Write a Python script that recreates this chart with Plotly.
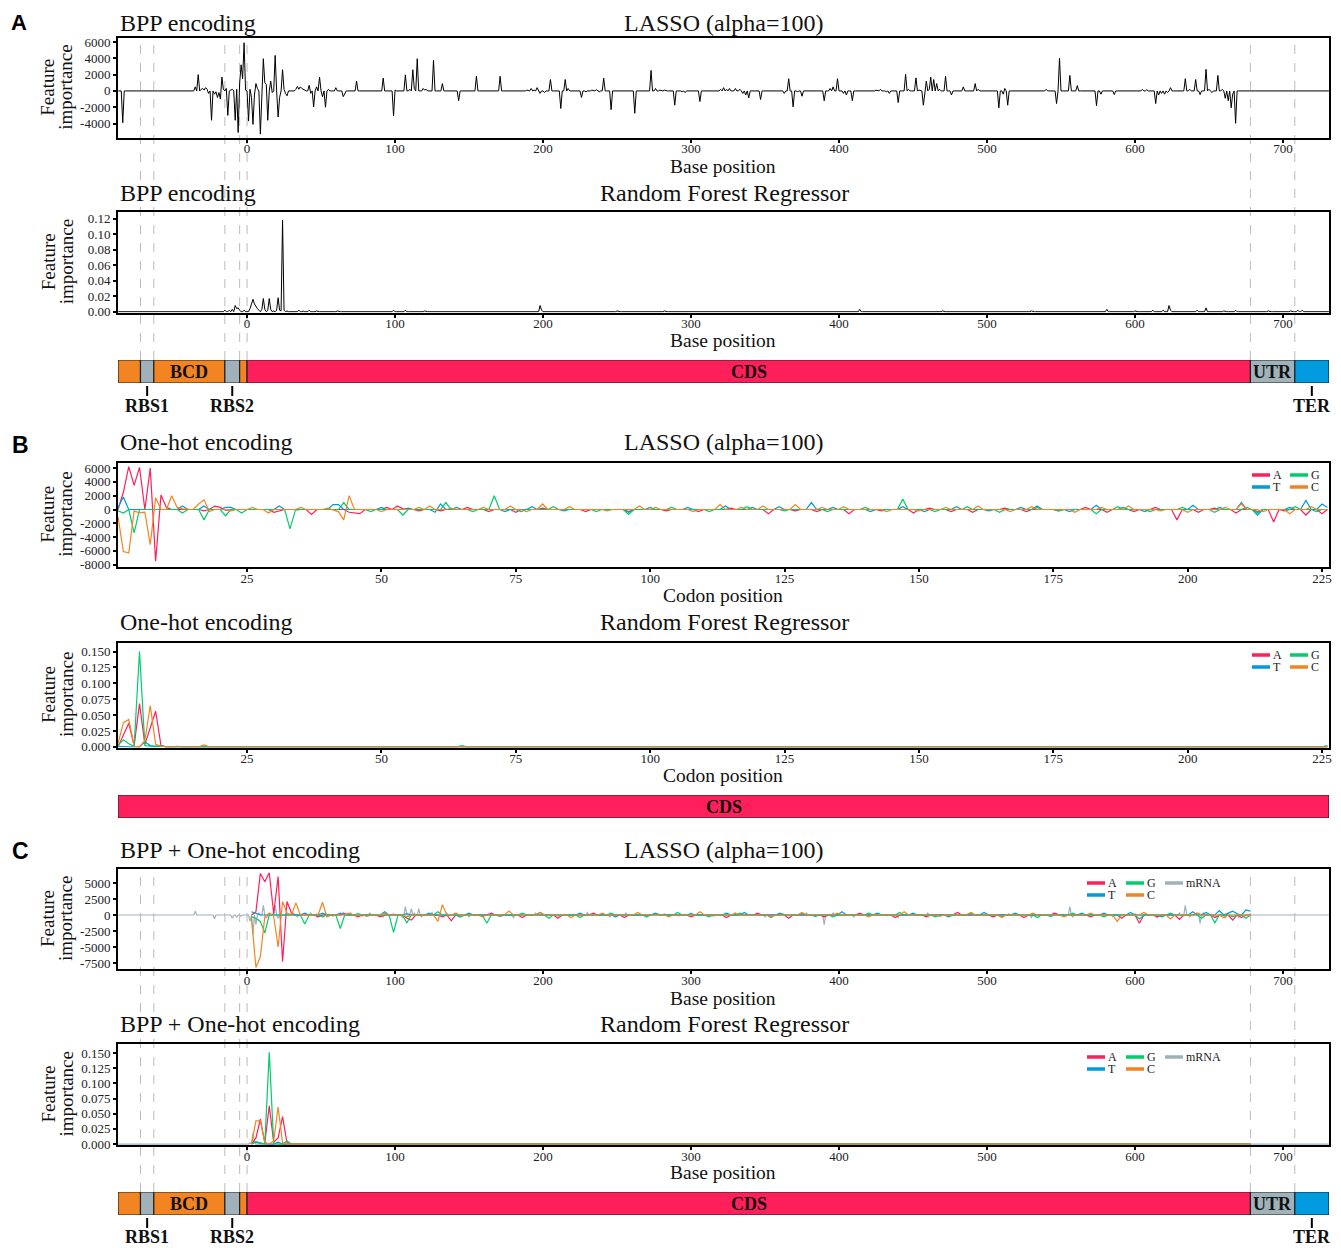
import plotly.graph_objects as go

PAGE_W, PAGE_H = 1341, 1248
OX, OY = 8, 8
W, H = PAGE_W - OX, PAGE_H - OY
SERIF = "Liberation Serif"
SANS = "Liberation Sans"

COL_A = "#FF1F5B"
COL_T = "#009ADE"
COL_G = "#00CD6C"
COL_C = "#F28522"
COL_M = "#A0B1BA"

# ---------------- data ----------------
base_positions = list(range(-87, 732))
codon_positions = list(range(1, 227))

# A: LASSO, BPP encoding (base position -> importance)
lasso_bpp_pos = [-84, -35, -33, -31, -30, -29, -28, -27, -26, -24, -22, -21, -20, -19, -18,
                 -17, -16, -14, -13, -11, -10, -8, -7, -6, -5, -4, -3, -2, -1,
                 1, 2, 3, 4, 5, 6, 7, 9, 11, 12, 13, 14, 16, 17, 19, 21, 22, 24, 25, 26, 27,
                 33, 34, 35, 36, 37, 38, 42, 43, 45, 47, 49, 51, 53, 55, 60, 65, 66, 74, 80,
                 92, 99, 100, 107, 110, 112, 113, 115, 119, 120, 121, 126, 132, 143, 155, 171,
                 189, 192, 194, 196, 198, 201, 205, 212, 215, 217, 226, 229, 233, 236, 238, 241,
                 246, 262, 273, 276, 279, 282, 289, 294, 296, 306,
                 320, 322, 324, 326, 330, 333, 335, 337, 339, 347, 363, 366, 369, 372, 375, 390,
                 394, 396, 399, 403, 405, 409, 425, 428, 432, 434, 440, 445, 447, 452, 454, 457,
                 459, 461, 462, 464, 466, 468, 472, 476, 484, 492, 494,
                 508, 511, 512, 514, 540, 547, 549, 556, 561, 574, 577, 586, 600, 605, 608, 614,
                 616, 618, 620, 622, 624, 634, 637, 641, 644, 648, 650, 652, 656, 659, 661, 663,
                 665, 666, 668]
lasso_bpp_val = [-3900, 500, 2000, 200, 300, 100, 400, 200, -300, -3600, -400, -100, -800, -200, -1000,
                 1700, 200, 300, -3000, 100, 200, -3600, 200, -5100, 1000, 3200, 1500, 5900, 100,
                 -3700, 200, -800, -4100, -500, 900, 300, -5300, 3950, 1000, 800, -3600, 1200, -200, 4350, -3200, -800, 2600, 200, -300, -600,
                 200, 550, 200, 500, 300, 200, 700, -300, -1950, 500, 1700, -700, -2000, 200, 400, -700, -300, 1200, 50,
                 1570, -3050, 100, 1970, 200, 2600, 300, 3950, 300, 100, 200, 3750, 900, -1200, 1800, 1800,
                 100, 300, 100, 400, -300, -200, 1400, -2150, 1400, 300, -800, -100, 100, 150, -100, 1570,
                 -2300, -2740, 2520, 300, 100, 100, -1750, -100, -200, -1300,
                 200, 400, 200, 300, 300, 200, -300, -500, -850, -1050, -300, 1500, -1950, -100, -650, -1200,
                 300, 500, 1500, -300, -500, -1200, 100, 200, -100, -300, -1430, 2030, 200, 1600, 100, -1750,
                 1200, 200, 1700, 1400, 900, 200, 1800, -500, 500, 900, 200,
                 -2070, -400, 300, -1750, 200, -1550, 4000, 1900, 650, -1800, -400, -450, 50, 200, 150, -1550,
                 -500, -300, -400, -200, 400, 1500, 200, 1400, -450, 2650, 200, -200, 1900, 200, -900, -1200,
                 -2070, -400, -3970]

# A: Random forest, BPP encoding
rf_bpp_pos = [-80, -70, -55, -45, -35, -28, -22, -18, -15, -12, -10, -8, -7, -6, -5, -2,
              2, 3, 4, 5, 6, 7, 8, 10, 11, 12, 14, 15, 16, 18, 20, 21, 22, 23, 24, 25, 27,
              30, 35, 38, 42, 47, 52, 61, 66, 80, 90, 99, 107, 112, 120, 130, 140, 150, 165,
              180, 198, 199, 210, 225, 240, 250, 265, 282, 300, 320, 340, 360, 380, 395, 414,
              430, 450, 470, 490, 510, 530, 545, 560, 570, 581, 590, 600, 612, 619, 623, 624,
              630, 642, 648, 655, 660, 668, 675, 690, 695, 705, 710, 713, 720, 728]
rf_bpp_val = [0.0008, 0.0008, 0.0008, 0.0008, 0.0008, 0.0008, 0.0008, 0.0008, 0.002, 0.002, 0.003, 0.008, 0.004, 0.005, 0.002, 0.002,
              0.004, 0.012, 0.016, 0.010, 0.006, 0.004, 0.002, 0.003, 0.017, 0.003, 0.002, 0.017, 0.003, 0.001, 0.002, 0.018, 0.002, 0.001, 0.118, 0.002, 0.001,
              0.0008, 0.002, 0.0008, 0.002, 0.001, 0.0008, 0.001, 0.0008, 0.0008, 0.0008, 0.002, 0.002, 0.0008, 0.001, 0.0008, 0.0008, 0.0008, 0.0008,
              0.0008, 0.008, 0.002, 0.0008, 0.0008, 0.0008, 0.001, 0.0008, 0.001, 0.0008, 0.0008, 0.0008, 0.0008, 0.0008, 0.0008, 0.003,
              0.0008, 0.0008, 0.001, 0.0008, 0.0008, 0.001, 0.0008, 0.0008, 0.0008, 0.003, 0.0008, 0.001, 0.002, 0.002, 0.008, 0.002,
              0.0008, 0.002, 0.005, 0.0008, 0.001, 0.002, 0.0008, 0.001, 0.0008, 0.001, 0.002, 0.002, 0.0008, 0.0008]

# B: LASSO, one-hot encoding (codon -> importance)
lasso_oh_A = {2: 2500, 3: 6200, 4: 3500, 5: 6100, 7: 6000, 8: -7500, 9: 2100, 10: 300, 17: -200, 19: 500,
              20: 300, 21: -100, 30: -400, 31: -200, 37: -700, 44: -400, 45: -500, 46: -600, 51: 300, 53: 500,
              54: 100, 57: -200, 61: -200, 66: 300, 70: -300, 75: -400, 80: 200, 88: -300, 96: -300, 103: -200,
              109: -300, 115: 200, 122: -600, 127: -200, 131: -300, 137: -600, 143: -200, 149: -500, 152: 200,
              156: -300, 160: -400, 166: 200, 170: -300, 176: -200, 181: 300, 185: -400, 190: -300, 194: 300,
              198: -1500, 202: -400, 205: 200, 209: -500, 213: -300, 216: -1800, 218: -200, 222: -800, 225: -600}
lasso_oh_T = {1: 300, 2: 1800, 13: 500, 17: 500, 21: 300, 22: 300, 31: 500, 41: 700, 42: 700, 50: 300,
              55: 200, 60: -400, 61: 800, 64: 300, 73: -300, 78: 400, 84: -200, 96: -400, 100: 300, 107: 300,
              114: 500, 119: 300, 124: 400, 130: 1000, 134: 300, 141: -300, 147: 400, 151: -300, 157: 400,
              163: -200, 169: 300, 172: 500, 178: -300, 183: 600, 188: 300, 192: -300, 201: 600, 206: 300,
              210: 1000, 213: -800, 219: 300, 222: 1300, 225: 800, 226: 300}
lasso_oh_G = {1: -200, 2: -500, 4: -3400, 13: -500, 17: -1500, 21: -900, 24: -500, 33: -2800, 34: -100,
              43: 1000, 48: -300, 54: -800, 62: 1000, 67: -300, 71: 2000, 76: -300, 82: 400, 90: -300, 96: -700,
              104: 300, 111: -300, 118: 400, 125: -200, 133: -300, 140: 300, 147: 1500, 153: -300, 159: 400,
              165: -400, 172: 300, 176: -200, 183: -600, 187: 400, 193: -300, 199: 300, 205: -400, 211: 300,
              213: -500, 220: 400, 224: -300}
lasso_oh_C = {1: -1000, 2: -6100, 3: -6300, 4: -200, 5: -500, 6: -400, 7: -5100, 8: 1700, 11: 2000, 12: 300,
              13: 100, 16: 800, 17: 1400, 18: -300, 22: -200, 26: 300, 29: -500, 35: 300, 40: 200, 42: -300,
              43: -1500, 44: 2000, 50: -300, 57: 300, 59: 500, 63: 200, 69: 300, 74: 500, 77: -300, 80: 800,
              85: 400, 92: -200, 98: 500, 101: 300, 108: -300, 113: 700, 117: 300, 121: 500, 127: 700, 132: 300,
              136: 400, 144: -300, 150: -200, 155: 300, 161: 500, 167: -300, 171: 400, 179: -400, 184: 300,
              189: 500, 195: -200, 200: -400, 207: 300, 210: 800, 214: -300, 219: -600, 223: 400}

# B: Random forest, one-hot encoding
rf_oh_A = {2: 0.020, 3: 0.037, 4: 0.002, 5: 0.068, 6: 0.004, 7: 0.030, 8: 0.056, 9: 0.002, 12: 0.001, 20: 0.001}
rf_oh_T = {1: 0.001, 6: 0.008, 7: 0.002, 9: 0.001, 120: 0.001, 225: 0.001}
rf_oh_G = {1: 0.003, 2: 0.011, 3: 0.005, 4: 0.001, 5: 0.150, 6: 0.002, 7: 0.001, 8: 0.001, 9: 0.002,
           33: 0.001, 65: 0.002, 150: 0.001, 226: 0.002}
rf_oh_C = {1: 0.005, 2: 0.038, 3: 0.043, 4: 0.001, 6: 0.010, 7: 0.065, 8: 0.004, 9: 0.001, 17: 0.003,
           40: 0.001, 86: 0.001}

# C: LASSO, BPP + one-hot (one-hot per codon, mRNA per base)
combo_lasso_A = {2: 500, 3: 6500, 4: 5200, 5: 6600, 6: 200, 7: 6000, 8: -7300, 9: 2100, 10: 300, 16: -300,
                 22: 200, 25: -300, 30: -300, 36: -500, 37: -800, 44: -300, 46: -900, 48: -300, 55: 300,
                 62: -400, 70: -500, 78: 300, 85: -400, 92: 200, 100: -300, 108: -400, 115: 300, 122: -500,
                 130: -300, 138: 300, 146: -400, 153: -300, 160: 400, 168: -300, 175: -400, 182: 300,
                 190: -300, 197: -500, 201: -1300, 205: -300, 210: -700, 214: 300, 218: -400, 222: -800, 224: -400}
combo_lasso_T = {1: 500, 2: 300, 13: 300, 17: 300, 21: 300, 31: 500, 36: 200, 41: 300, 50: 300, 57: -200,
                 66: 400, 75: 300, 83: -300, 92: 300, 100: 200, 108: 300, 112: 400, 120: 300, 128: -200,
                 134: 500, 142: 300, 150: 300, 158: -300, 166: 400, 173: 300, 181: -200, 188: 300, 193: 300,
                 199: 400, 206: -300, 213: 500, 216: 400, 219: 700, 221: 300, 222: 600, 223: 200, 225: 800, 226: 600}
combo_lasso_G = {1: -300, 2: -500, 3: -1000, 4: -2800, 13: -1400, 17: -300, 21: -2100, 25: 200, 33: -2700,
                 36: -1200, 43: 500, 48: -300, 54: -1300, 62: 300, 68: -500, 75: -400, 82: 300, 90: -300,
                 97: 400, 104: -300, 111: 300, 118: -400, 125: 300, 132: -300, 140: 300, 147: 400, 155: -300,
                 163: 300, 170: -200, 178: -400, 186: 300, 193: -300, 201: -600, 208: 300, 215: -500,
                 218: -1200, 222: -300, 225: -500}
combo_lasso_C = {1: -500, 2: -8200, 3: -6500, 4: -300, 5: 300, 6: -200, 7: -5000, 8: 2100, 9: 300, 11: 1900,
                 17: 2000, 18: -300, 23: 300, 27: -200, 31: 300, 36: -300, 43: -1000, 44: 1600, 47: 300,
                 53: -300, 59: 600, 66: 400, 73: -400, 80: 300, 88: 400, 95: -300, 102: 500, 110: 300,
                 118: -300, 125: 400, 133: 300, 140: -300, 148: 500, 156: -200, 163: 400, 170: -400, 177: 300,
                 184: -300, 190: 300, 196: -1000, 202: 400, 208: -600, 214: 300, 220: -400}
combo_lasso_mrna = {-35: 600, -22: -600, -10: -500, -7: -300, -4: -200, 2: -1000, 4: -3100, 6: -1500, 8: 300,
                    11: 1500, 13: -500, 17: 200, 19: 1500, 21: -500, 30: 300, 34: -300, 43: 300, 47: 200,
                    53: 300, 58: -200, 65: 400, 70: 300, 78: -200, 83: 300, 92: -300, 99: 200, 105: -400,
                    107: 1300, 109: -200, 111: 1000, 113: 300, 116: 1000, 118: -300, 125: 400, 135: 300,
                    150: -300, 165: 200, 180: -400, 195: 300, 210: -200, 230: 400, 245: -300, 256: 300,
                    270: -300, 282: 200, 300: 300, 315: -200, 330: 300, 350: -300, 362: 200, 378: 300,
                    390: -1500, 396: 300, 410: -300, 425: 200, 440: -400, 460: 300, 475: -200, 490: 300,
                    505: -300, 515: 200, 530: -400, 545: 300, 556: 1300, 558: -300, 570: 200, 585: -300,
                    600: 200, 615: -400, 630: 300, 634: 1500, 637: -300, 644: -1300, 646: 300, 655: -300,
                    661: -500, 670: -300}

# C: Random forest, BPP + one-hot
combo_rf_A = {2: 0.010, 3: 0.041, 4: 0.002, 5: 0.063, 6: 0.003, 7: 0.010, 8: 0.045, 9: 0.002}
combo_rf_T = {2: 0.003, 3: 0.001, 7: 0.003, 65: 0.001}
combo_rf_G = {2: 0.004, 3: 0.002, 5: 0.151, 6: 0.001, 9: 0.005, 66: 0.001}
combo_rf_C = {2: 0.038, 3: 0.038, 4: 0.003, 6: 0.005, 7: 0.061, 8: 0.002}
combo_rf_mrna = {-40: 0.001, -20: 0.001, 2: 0.002, 4: 0.018, 5: 0.005, 100: 0.001, 200: 0.001,
                 400: 0.001, 600: 0.001}

# tick labels
lasso_bpp_ticks = [-4000, -2000, 0, 2000, 4000, 6000]
rf_bpp_ticks = [0, 0.02, 0.04, 0.06, 0.08, 0.10, 0.12]
lasso_oh_ticks = [-8000, -6000, -4000, -2000, 0, 2000, 4000, 6000]
rf_ticks = [0, 0.025, 0.05, 0.075, 0.1, 0.125, 0.15]
combo_lasso_ticks = [-7500, -5000, -2500, 0, 2500, 5000]
base_ticks = [0, 100, 200, 300, 400, 500, 600, 700]
codon_ticks = [25, 50, 75, 100, 125, 150, 175, 200, 225]

# construct annotation bars
seg_names = ["", "", "BCD", "", "", "CDS", "UTR", ""]
seg_start = [-87.2, -72, -63, -15, -5, 0, 678, 708]
seg_end = [-72, -63, -15, -5, 0, 678, 708, 731.1]
seg_colors = [COL_C, COL_M, COL_C, COL_M, COL_C, COL_A, COL_M, COL_T]
site_names = ["RBS1", "RBS2", "TER"]
site_pos = [-67.5, -10, 719.5]
dashed_pos = [-72, -63, -15, -5, 0, 678, 708]

BASE_RANGE = [-87.2, 731.1]
CODON_RANGE = [1, 226.3]


def px(p):
    return (p - OX) / W


def py(p):
    return 1 - (p - OY) / H


def expand(xs, d):
    return [d.get(x, 0.0) for x in xs]


def fmt(vals, spec):
    return [format(v, spec) for v in vals]


fig = go.Figure()

# frames in page pixels (top, bottom)
frames = {1: (38, 137.5), 2: (212, 312.5), 3: (360, 383), 4: (462.5, 567), 5: (642.5, 747.5),
          6: (795, 818), 7: (869, 969), 8: (1044, 1145), 9: (1192, 1215)}


def ax(i):
    return ("x" if i == 1 else f"x{i}"), ("y" if i == 1 else f"y{i}")


xa, ya = ax(1)
fig.add_trace(go.Scatter(x=base_positions, y=expand(base_positions, dict(zip(lasso_bpp_pos, lasso_bpp_val))),
                         mode="lines", line=dict(color="black", width=1), xaxis=xa, yaxis=ya, showlegend=False))
xa, ya = ax(2)
fig.add_trace(go.Scatter(x=base_positions, y=expand(base_positions, dict(zip(rf_bpp_pos, rf_bpp_val))),
                         mode="lines", line=dict(color="black", width=1), xaxis=xa, yaxis=ya, showlegend=False))

for i, series in ((4, [(lasso_oh_A, COL_A), (lasso_oh_T, COL_T), (lasso_oh_G, COL_G), (lasso_oh_C, COL_C)]),
                  (5, [(rf_oh_A, COL_A), (rf_oh_T, COL_T), (rf_oh_G, COL_G), (rf_oh_C, COL_C)])):
    xa, ya = ax(i)
    for d, c in series:
        fig.add_trace(go.Scatter(x=codon_positions, y=expand(codon_positions, d), mode="lines",
                                 line=dict(color=c, width=1.2), xaxis=xa, yaxis=ya, showlegend=False))

codon_bases = [3 * c for c in codon_positions]
for i, mr, series in ((7, combo_lasso_mrna, [(combo_lasso_A, COL_A), (combo_lasso_T, COL_T), (combo_lasso_G, COL_G), (combo_lasso_C, COL_C)]),
                      (8, combo_rf_mrna, [(combo_rf_A, COL_A), (combo_rf_T, COL_T), (combo_rf_G, COL_G), (combo_rf_C, COL_C)])):
    xa, ya = ax(i)
    fig.add_trace(go.Scatter(x=base_positions, y=expand(base_positions, mr), mode="lines",
                             line=dict(color=COL_M, width=1.2), xaxis=xa, yaxis=ya, showlegend=False))
    for d, c in series:
        fig.add_trace(go.Scatter(x=codon_bases, y=expand(codon_positions, d), mode="lines",
                                 line=dict(color=c, width=1.2), xaxis=xa, yaxis=ya, showlegend=False))

for i in (3, 9):
    xa, ya = ax(i)
    fig.add_trace(go.Bar(y=[0] * len(seg_start), x=[e - s for s, e in zip(seg_start, seg_end)], base=seg_start,
                         orientation="h", width=1, marker=dict(color=seg_colors, line=dict(color="#222", width=1.2)),
                         xaxis=xa, yaxis=ya, showlegend=False, hoverinfo="skip"))
xa, ya = ax(6)
fig.add_trace(go.Bar(y=[0], x=[CODON_RANGE[1] - CODON_RANGE[0]], base=[CODON_RANGE[0]], orientation="h", width=1,
                     marker=dict(color=COL_A, line=dict(color="#222", width=1.2)),
                     xaxis=xa, yaxis=ya, showlegend=False, hoverinfo="skip"))

layout = dict(width=W, height=H, margin=dict(l=0, r=0, t=0, b=0, pad=0, autoexpand=False),
              paper_bgcolor="white", plot_bgcolor="rgba(0,0,0,0)", barmode="overlay", showlegend=False,
              font=dict(family=SERIF, size=13, color="black"))

tickfont = dict(family=SERIF, size=13, color="#222")
ydefs = {
    1: dict(range=[-5710, 6490], tickvals=lasso_bpp_ticks, ticktext=fmt(lasso_bpp_ticks, "d")),
    2: dict(range=[-0.001, 0.1286], tickvals=rf_bpp_ticks, ticktext=fmt(rf_bpp_ticks, ".2f")),
    4: dict(range=[-8330, 6810], tickvals=lasso_oh_ticks, ticktext=fmt(lasso_oh_ticks, "d")),
    5: dict(range=[-0.001, 0.1642], tickvals=rf_ticks, ticktext=fmt(rf_ticks, ".3f")),
    7: dict(range=[-8440, 7190], tickvals=combo_lasso_ticks, ticktext=fmt(combo_lasso_ticks, "d")),
    8: dict(range=[-0.0016, 0.1648], tickvals=rf_ticks, ticktext=fmt(rf_ticks, ".3f")),
}
for i in range(1, 10):
    top, bot = frames[i]
    xname = "xaxis" if i == 1 else f"xaxis{i}"
    yname = "yaxis" if i == 1 else f"yaxis{i}"
    xa, ya = ax(i)
    xr = CODON_RANGE if i in (4, 5, 6) else BASE_RANGE
    if i in (3, 6, 9):
        layout[xname] = dict(domain=[px(118), px(1329)], range=xr, anchor=ya, visible=False, fixedrange=True,
                             automargin=False)
        layout[yname] = dict(domain=[py(bot), py(top)], range=[-0.5, 0.5], anchor=xa, visible=False,
                             automargin=False)
        continue
    tv = codon_ticks if i in (4, 5) else base_ticks
    layout[xname] = dict(domain=[px(118), px(1329)], range=xr, anchor=ya, showline=True, mirror=True,
                         linecolor="black", linewidth=2, ticks="outside", ticklen=3, tickwidth=2,
                         tickcolor="black", tickvals=tv, tickfont=tickfont, showgrid=False, zeroline=False,
                         ticklabelstandoff=-5, automargin=False)
    yd = dict(domain=[py(bot), py(top)], anchor=xa, showline=True, mirror=True, linecolor="black", linewidth=2,
              ticks="outside", ticklen=3, tickwidth=2, tickcolor="black", tickfont=tickfont, showgrid=False,
              zeroline=False, automargin=False)
    yd.update(ydefs[i])
    layout[yname] = yd

fig.update_layout(**layout)

ann = []
shapes = []
titles = [
    (19, "BPP encoding", "LASSO (alpha=100)"),
    (193, "BPP encoding", "Random Forest Regressor"),
    (442, "One-hot encoding", "LASSO (alpha=100)"),
    (622, "One-hot encoding", "Random Forest Regressor"),
    (850, "BPP + One-hot encoding", "LASSO (alpha=100)"),
    (1024, "BPP + One-hot encoding", "Random Forest Regressor"),
]
for k, (yy, left, mid) in enumerate(titles):
    if k == 0:
        yv, ya_ = py(8.5), "top"
    else:
        yv, ya_ = py(yy), "middle"
    ann.append(dict(x=px(118), y=yv, xref="paper", yref="paper", text=left, showarrow=False,
                    xanchor="left", yanchor=ya_, font=dict(family=SERIF, size=24, color="#111")))
    ann.append(dict(x=px(724), y=yv, xref="paper", yref="paper", text=mid, showarrow=False,
                    xanchor="center", yanchor=ya_, font=dict(family=SERIF, size=24, color="#111")))

xtitles = [(166, "Base position"), (340, "Base position"), (596, "Codon position"), (775, "Codon position"),
           (998, "Base position"), (1172, "Base position")]
for yy, t in xtitles:
    ann.append(dict(x=px(723), y=py(yy), xref="paper", yref="paper", text=t, showarrow=False,
                    xanchor="center", yanchor="middle", font=dict(family=SERIF, size=19.5, color="#111")))

for i in (1, 2, 4, 5, 7, 8):
    top, bot = frames[i]
    for txt, xx in (("Feature", 48), ("importance", 66)):
        ann.append(dict(x=px(xx), y=py((top + bot) / 2), xref="paper", yref="paper", text=txt,
                        showarrow=False, textangle=-90, xanchor="center", yanchor="middle",
                        font=dict(family=SERIF, size=19, color="#111")))

ann.append(dict(x=px(19), y=py(8.5), xref="paper", yref="paper", text="<b>A</b>", showarrow=False,
                xanchor="center", yanchor="top", font=dict(family=SANS, size=22, color="black")))
for t, xx, yy in (("B", 20, 445), ("C", 20, 851)):
    ann.append(dict(x=px(xx), y=py(yy), xref="paper", yref="paper", text=f"<b>{t}</b>", showarrow=False,
                    xanchor="center", yanchor="middle", font=dict(family=SANS, size=23, color="black")))

for i, lab_y in ((3, 406), (9, 1237)):
    xa, ya = ax(i)
    top, bot = frames[i]
    for n, s, e in zip(seg_names, seg_start, seg_end):
        if n:
            ann.append(dict(x=(s + e) / 2, y=0, xref=xa, yref=ya, text=f"<b>{n}</b>", showarrow=False,
                            xanchor="center", yanchor="middle", font=dict(family=SERIF, size=18, color="#111")))
    for n, p in zip(site_names, site_pos):
        shapes.append(dict(type="line", xref=xa, yref="paper", x0=p, x1=p, y0=py(bot + 3), y1=py(bot + 13),
                           line=dict(color="black", width=2)))
        ann.append(dict(x=p, y=py(lab_y), xref=xa, yref="paper", text=f"<b>{n}</b>", showarrow=False,
                        xanchor="center", yanchor="middle", font=dict(family=SERIF, size=18, color="#111")))
xa, ya = ax(6)
ann.append(dict(x=sum(CODON_RANGE) / 2, y=0, xref=xa, yref=ya, text="<b>CDS</b>", showarrow=False,
                xanchor="center", yanchor="middle", font=dict(family=SERIF, size=18, color="#111")))

for xa_ref, top_px, bot_px in (("x", 38, 360), ("x7", 869, 1192)):
    for p in dashed_pos:
        shapes.append(dict(type="line", xref=xa_ref, yref="paper", x0=p, x1=p, y0=py(bot_px), y1=py(top_px),
                           line=dict(color="#BBBBBB", width=1, dash="dash"), layer="below"))


def legend(entries, x0, y_rows):
    for (lab, col, col_i, row) in entries:
        xs = x0[col_i]
        yy = y_rows[row]
        shapes.append(dict(type="line", xref="paper", yref="paper", x0=px(xs), x1=px(xs + 18), y0=py(yy), y1=py(yy),
                           line=dict(color=col, width=3.5)))
        ann.append(dict(x=px(xs + 19), y=py(yy), xref="paper", yref="paper", text=lab, showarrow=False,
                        xanchor="left", yanchor="middle", font=dict(family=SERIF, size=12, color="#222")))


ent4 = [("A", COL_A, 0, 0), ("G", COL_G, 1, 0), ("T", COL_T, 0, 1), ("C", COL_C, 1, 1)]
legend(ent4, [1252, 1290], [475, 487])
legend(ent4, [1252, 1290], [655, 667])
ent5 = ent4 + [("mRNA", COL_M, 2, 0)]
legend(ent5, [1087, 1126, 1165], [883, 895])
legend(ent5, [1087, 1126, 1165], [1057, 1069])

fig.update_layout(annotations=ann, shapes=shapes)
fig.write_html("out.html")
